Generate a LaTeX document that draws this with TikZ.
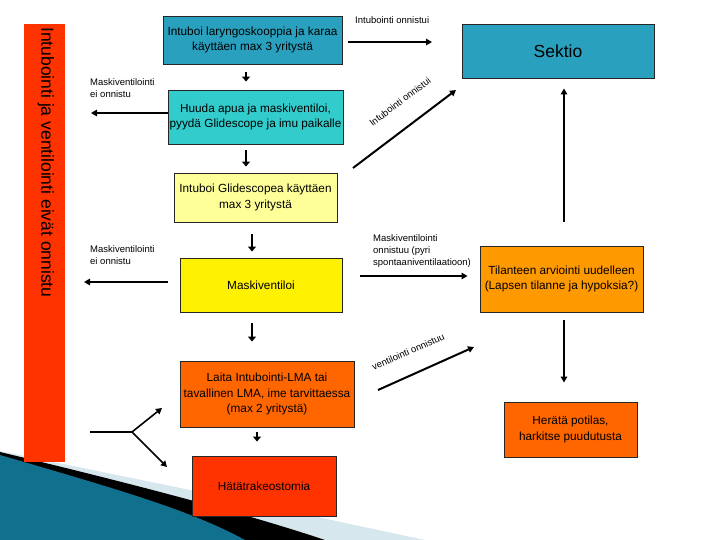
\documentclass[tikz,border=0pt]{standalone}
\usepackage{fontspec}
\setmainfont{Liberation Sans}
\usetikzlibrary{arrows.meta}

\definecolor{tealbox}{RGB}{41,160,190}
\definecolor{cyanbox}{RGB}{51,204,204}
\definecolor{paleyellow}{RGB}{255,255,153}
\definecolor{orangebox}{RGB}{255,102,0}
\definecolor{amberbox}{RGB}{255,153,0}
\definecolor{redbox}{RGB}{255,51,0}
\definecolor{swooshlight}{RGB}{214,231,238}
\definecolor{swooshdark}{RGB}{16,112,142}
\definecolor{swooshmid}{RGB}{88,180,212}

\begin{document}
\begin{tikzpicture}[x=1pt, y=-1pt,
  box/.style={draw=black!85, line width=0.9pt, inner sep=1pt, align=center,
    font=\fontsize{11.8}{15.5}\selectfont},
  lbl/.style={inner sep=0pt, align=left, font=\fontsize{9.5}{12}\selectfont},
  arr/.style={line width=2pt, -{Triangle[length=6pt, width=6.5pt]}},
  varr/.style={line width=2.5pt, -{Triangle[length=5pt, width=8pt]}}]
\useasboundingbox (0,0) rectangle (720,540);

% swoosh
\fill [swooshlight] (0,451) -- (200,492) -- (425,540) -- (0,540) -- cycle;
\fill [black] (0,452) .. controls (150,488) and (250,515) .. (325,540) -- (0,540) -- cycle;
\shade [left color=swooshdark, middle color=swooshmid, right color=swooshdark] (0,455) .. controls (120,490) and (190,510) .. (245,540) -- (0,540) -- cycle;

% side bar
\node [fill=redbox, minimum width=41pt, minimum height=438pt, inner sep=0pt] (side) at (44.5,243) {};
\node [rotate=-90, anchor=west, inner sep=0pt, font=\fontsize{17.5}{17.5}\selectfont] (sidetxt) at (46,27) {Intubointi ja ventilointi eivät onnistu};

% boxes
\node [box, fill=tealbox, minimum width=179pt, minimum height=48pt] (laryngo) at (252.5,40) {Intuboi laryngoskooppia ja karaa\\käyttäen max 3 yritystä};
\node [box, fill=cyanbox, minimum width=175pt, minimum height=54pt] (huuda) at (255.5,117) {Huuda apua ja maskiventiloi,\\pyydä Glidescope ja imu paikalle};
\node [box, fill=paleyellow, minimum width=163pt, minimum height=49pt] (glide) at (255.5,197.5) {Intuboi Glidescopea käyttäen\\max 3 yritystä};
\node [box, fill=yellow, minimum width=162pt, minimum height=54pt] (maski) at (261,285) {Maskiventiloi};
\node [box, fill=orangebox, minimum width=174pt, minimum height=66pt] (lma) at (267,394) {Laita Intubointi-LMA tai\\tavallinen LMA, ime tarvittaessa\\(max 2 yritystä)};
\node [box, fill=redbox, minimum width=144pt, minimum height=60pt] (trakeo) at (264,486) {Hätätrakeostomia};
\node [box, fill=tealbox, minimum width=192pt, minimum height=54pt, font=\fontsize{17.5}{20}\selectfont] (sektio) at (558,51) {Sektio};
\node [box, fill=amberbox, minimum width=163pt, minimum height=66pt] (tila) at (561.5,279) {Tilanteen arviointi uudelleen\\(Lapsen tilanne ja hypoksia?)};
\node [box, fill=orangebox, minimum width=133pt, minimum height=55pt] (herata) at (570.5,429.5) {Herätä potilas,\\harkitse puudutusta};

% labels
\node [lbl, anchor=west] (okyla) at (355,20) {Intubointi onnistui};
\node [lbl, anchor=north west] (eiyla) at (90,78) {Maskiventilointi\\ei onnistu};
\node [lbl, anchor=north west] (eiala) at (90,245) {Maskiventilointi\\ei onnistu};
\node [lbl, anchor=north west] (okmaski) at (373,234) {Maskiventilointi\\onnistuu (pyri\\spontaaniventilaatioon)};

% free ends
\coordinate (m1) at (91,113);
\coordinate (m2) at (84,282);
\coordinate (s1) at (432,42);
\coordinate (d1a) at (353,168);
\coordinate (d1b) at (456,90);
\coordinate (d2a) at (378,390);
\coordinate (d2b) at (474,347);
\coordinate (t1) at ([xshift=2.5pt]tila.north);
\coordinate (t2) at ([xshift=2.5pt]tila.south);
\coordinate (f0) at (90,432);
\coordinate (f1) at (132,432);
\coordinate (f2) at (162,408);
\coordinate (f3) at (167,467);

% main column
\draw [varr, shorten <=8pt, shorten >=8pt] ([xshift=-6.5pt]laryngo.south) -- ([xshift=-9.5pt]huuda.north);
\draw [varr, shorten <=6pt, shorten >=6pt] ([xshift=-9.5pt]huuda.south) -- ([xshift=-9.5pt]glide.north);
\draw [varr, shorten <=12pt, shorten >=6pt] ([xshift=-3.5pt]glide.south) -- ([xshift=-9pt]maski.north);
\draw [varr, shorten <=11pt, shorten >=19pt] ([xshift=-9pt]maski.south) -- ([xshift=-15pt]lma.north);
\draw [varr, shorten <=5pt, shorten >=14pt] ([xshift=-10pt]lma.south) -- ([xshift=-7pt]trakeo.north);

% side exits
\draw [arr] ([yshift=4pt]huuda.west) -- (m1);
\draw [arr, shorten <=12pt] ([yshift=3pt]maski.east -| maski.west) -- (m2);
\draw [arr, shorten <=6pt] ([yshift=-2pt]laryngo.east) -- (s1);
\draw [arr] (d1a) -- node [lbl, sloped, above=20pt, pos=0.6] {Intubointi onnistui} (d1b);
\draw [arr] (d2a) -- node [lbl, sloped, above=18pt, pos=0.41] {ventilointi onnistuu} (d2b);
\draw [arr, shorten <=18pt, shorten >=12pt] ([yshift=9pt]maski.east) -- ([yshift=3pt]tila.west);
\draw [arr, shorten <=24pt, shorten >=10pt] (t1) -- (t1 |- sektio.south);
\draw [arr, shorten <=8pt, shorten >=19pt] (t2) -- (t2 |- herata.north);

% fork
\draw [line width=1.2pt] (f0) -- (f1);
\draw [arr, line width=1.6pt] (f1) -- (f2);
\draw [arr, line width=1.6pt] (f1) -- (f3);
\end{tikzpicture}
\end{document}
